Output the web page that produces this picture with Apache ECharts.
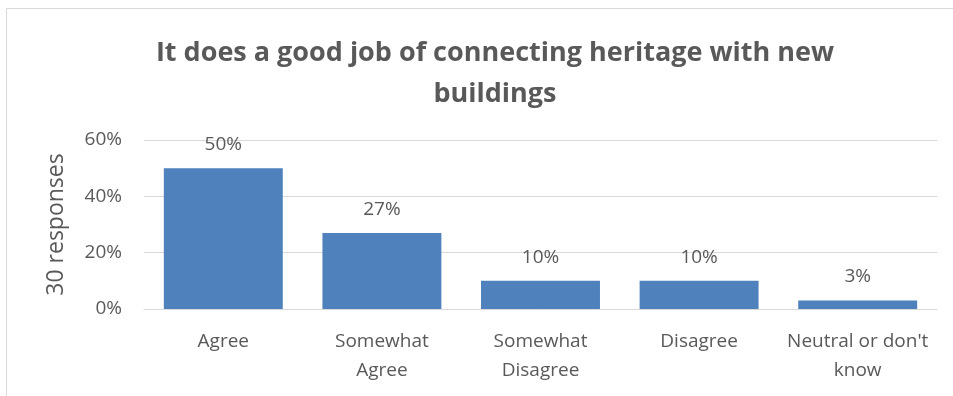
<!DOCTYPE html>
<html>
<head>
<meta charset="utf-8">
<script src="https://cdn.jsdelivr.net/npm/echarts@6/dist/echarts.min.js"></script>
<style>
  html, body { margin: 0; padding: 0; background: #fff; }
  #chart { width: 953px; height: 396px; }
</style>
</head>
<body>
<div id="chart"></div>
<script>
const categories = ['Agree', 'Somewhat\nAgree', 'Somewhat\nDisagree', 'Disagree', "Neutral or don't\nknow"];
const shares = [50, 27, 10, 10, 3];
const yTicks = [0, 20, 40, 60];

const textColor = '#595959';
const font = 'Open Sans';

const chart = echarts.init(document.getElementById('chart'), null, { renderer: 'canvas' });
chart.setOption({
  backgroundColor: '#fff',
  animation: false,
  title: {
    text: 'It does a good job of connecting heritage with new\nbuildings',
    left: 490,
    textAlign: 'center',
    top: 28,
    textStyle: {
      fontFamily: font,
      fontWeight: 'bold',
      fontSize: 27,
      lineHeight: 41,
      color: textColor
    }
  },
  graphic: [{
    type: 'rect',
    shape: { x: 6.5, y: 8.5, width: 960, height: 400 },
    style: { fill: 'none', stroke: '#d9d9d9', lineWidth: 1 },
    silent: true
  }],
  grid: { left: 144, right: 16, top: 140, bottom: 87 },
  xAxis: {
    type: 'category',
    data: categories,
    axisLine: { show: true, lineStyle: { color: '#d9d9d9', width: 1 } },
    axisTick: { show: false },
    axisLabel: {
      color: textColor,
      fontFamily: font,
      fontSize: 19,
      lineHeight: 29,
      margin: 18,
      interval: 0
    }
  },
  yAxis: {
    type: 'value',
    min: yTicks[0],
    max: yTicks[yTicks.length - 1],
    interval: 20,
    name: '30 responses',
    nameLocation: 'middle',
    nameGap: 76,
    nameTextStyle: { color: textColor, fontFamily: font, fontSize: 23 },
    axisLine: { show: false },
    axisTick: { show: false },
    splitLine: { lineStyle: { color: '#d9d9d9', width: 1 } },
    axisLabel: {
      color: textColor,
      fontFamily: font,
      fontSize: 19,
      margin: 22,
      formatter: v => v + '%'
    }
  },
  series: [{
    type: 'bar',
    data: shares,
    barCategoryGap: '25%',
    itemStyle: { color: '#4f81bd' },
    label: {
      show: true,
      position: 'top',
      distance: 14,
      color: textColor,
      fontFamily: font,
      fontSize: 19,
      formatter: p => p.value + '%'
    }
  }]
});
</script>
</body>
</html>
